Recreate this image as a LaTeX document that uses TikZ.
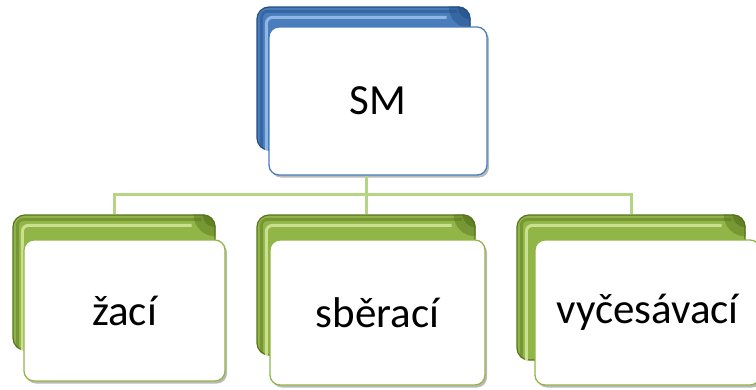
\documentclass[tikz,border=0pt]{standalone}
\usepackage{fontspec}
\setmainfont{Carlito}
\usetikzlibrary{shadows}
\definecolor{gmid}{HTML}{92B548}
\definecolor{glight}{HTML}{C9E08F}
\definecolor{gdark}{HTML}{56731C}
\definecolor{bmid}{HTML}{4A7DBB}
\definecolor{blight}{HTML}{8FB6E6}
\definecolor{bdark}{HTML}{224E84}
\definecolor{linkc}{HTML}{B5D584}
\tikzset{
  backbox/.style={draw=#1dark, line width=1.2pt, rounded corners=12pt, fill=#1mid, inner sep=0pt},
  frontbox/.style={draw=#1mid, line width=1.3pt, fill=white, rounded corners=10pt, inner sep=0pt,
    drop shadow={shadow xshift=2pt, shadow yshift=-2.5pt, opacity=0.45, fill=black!60}, font=\fontsize{43}{50}\selectfont},
  link/.style={draw=linkc, line width=3pt}
}
\begin{document}
\begin{tikzpicture}[x=1pt,y=-1pt]
\useasboundingbox (0,0) rectangle (756,389);
% back boxes
\node[backbox=b, minimum width=213pt, minimum height=143pt] (smb) at (363.5,78.5) {};
\node[backbox=g, minimum width=202pt, minimum height=135pt] (b1) at (114,282.5) {};
\node[backbox=g, minimum width=218pt, minimum height=140pt] (b2) at (366,285) {};
\node[backbox=g, minimum width=228pt, minimum height=145pt] (b3) at (631,287.5) {};
% bevel shading
\foreach \n/\c/\d in {smb/blight/bdark,b1/glight/gdark,b2/glight/gdark,b3/glight/gdark}{
  \begin{scope}
    \clip[rounded corners=12pt] (\n.south west) rectangle (\n.north east);
    \fill[\d, opacity=0.45] (\n.north east) circle[radius=22pt];
    \fill[\d, opacity=0.6] (\n.north east) circle[radius=13pt];
    \draw[\d, line width=3pt, rounded corners=6pt, opacity=0.45]
      ([xshift=5pt,yshift=-15pt]\n.south west) -- ([xshift=5pt,yshift=-5pt]\n.north west) -- ([xshift=-14pt,yshift=-5pt]\n.north east);
    \draw[\c, line width=3pt, rounded corners=6pt]
      ([xshift=10pt,yshift=-15pt]\n.south west) -- ([xshift=10pt,yshift=-11pt]\n.north west) -- ([xshift=-24pt,yshift=-11pt]\n.north east);
  \end{scope}
}
% front boxes
\node[frontbox=b, minimum width=218pt, minimum height=148pt] (sm) at (378,101) {SM};
\node[frontbox=g, minimum width=201pt, minimum height=141pt] (f1) at (124.5,310.5) {žací};
\node[frontbox=g, minimum width=215pt, minimum height=145pt] (f2) at (377.5,312.5) {sběrací};
\node[frontbox=g, minimum width=225pt, minimum height=145pt] (f3) at (647.5,312.5) {vyčesávací};
% connectors
\coordinate (j) at (366,194);
\draw[link] (j) -- (j |- sm.south);
\draw[link] (b1.north) |- (j);
\draw[link] (b3.north) |- (j);
\draw[link] (b2.north) -- (b2.north |- j);
\end{tikzpicture}
\end{document}
